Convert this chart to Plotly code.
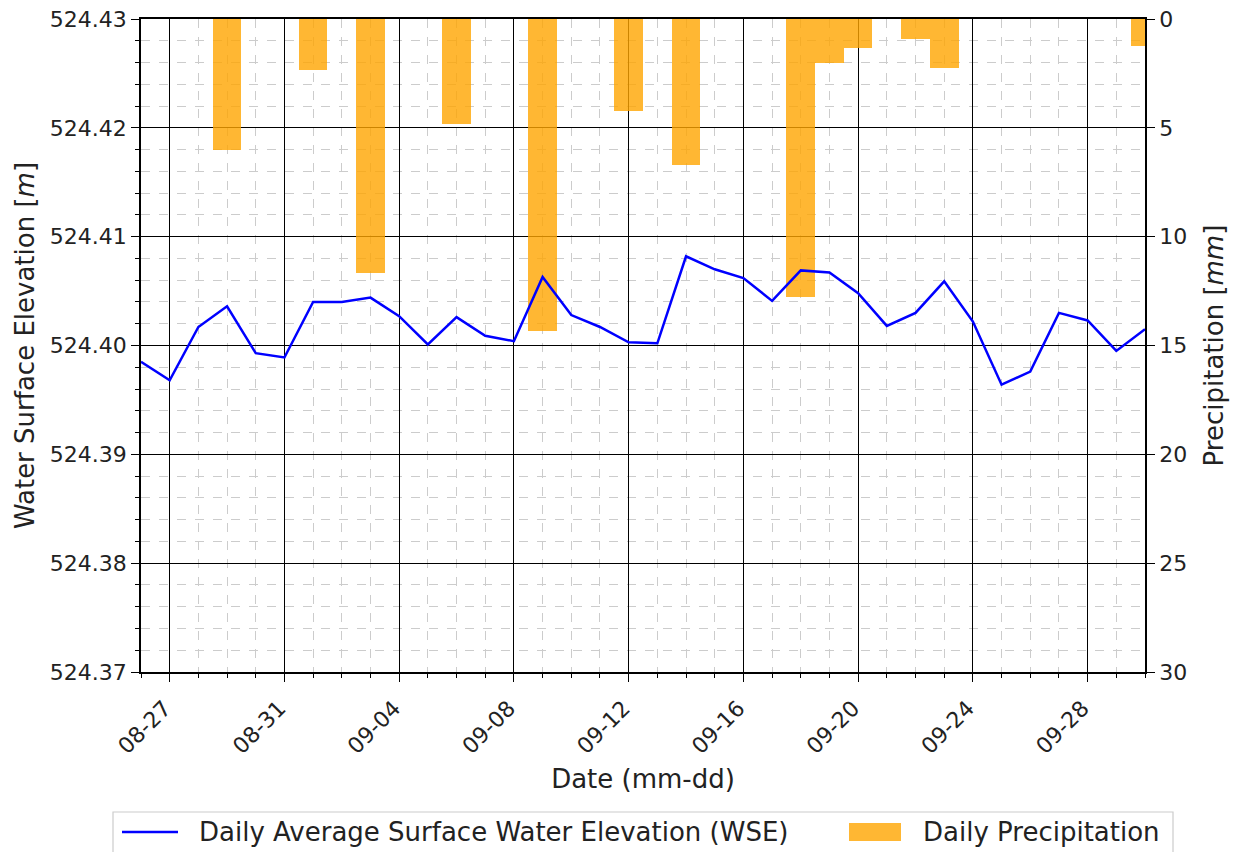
import plotly.graph_objects as go

dates = ["2024-08-26", "2024-08-27", "2024-08-28", "2024-08-29", "2024-08-30", "2024-08-31",
         "2024-09-01", "2024-09-02", "2024-09-03", "2024-09-04", "2024-09-05", "2024-09-06",
         "2024-09-07", "2024-09-08", "2024-09-09", "2024-09-10", "2024-09-11", "2024-09-12",
         "2024-09-13", "2024-09-14", "2024-09-15", "2024-09-16", "2024-09-17", "2024-09-18",
         "2024-09-19", "2024-09-20", "2024-09-21", "2024-09-22", "2024-09-23", "2024-09-24",
         "2024-09-25", "2024-09-26", "2024-09-27", "2024-09-28", "2024-09-29", "2024-09-30"]

wse = [524.3985, 524.3968, 524.4017, 524.4036, 524.3993, 524.3989,
       524.4040, 524.4040, 524.4044, 524.4027, 524.4001, 524.4026,
       524.4009, 524.4004, 524.4063, 524.4028, 524.4017, 524.4003,
       524.4002, 524.4082, 524.4070, 524.4062, 524.4041, 524.4069,
       524.4067, 524.4048, 524.4018, 524.4030, 524.4059, 524.4022,
       524.3964, 524.3976, 524.4030, 524.4023, 524.3995, 524.4015]

precip = [0, 0, 0, 6.0, 0, 0,
          2.33, 0, 11.67, 0, 0, 4.84,
          0, 0, 14.33, 0, 0, 4.21,
          0, 6.69, 0, 0, 0, 12.77,
          2.02, 1.33, 0, 0.93, 2.24, 0,
          0, 0, 0, 0, 0, 1.24]

line_name = "Daily Average Surface Water Elevation (WSE)"
bar_name = "Daily Precipitation"

DAY = 86400000
FONT = "DejaVu Sans"
W, H = 1233, 852
ML, MR, MT, MB = 141, 88, 19, 180
PW, PH = W - ML - MR, H - MT - MB

LINE_COLOR = "#0000FF"
BAR_COLOR = "#FFA500"
TICK_SIZE = 22
LABEL_SIZE = 26


def px(x):
    return (x - ML) / PW


def py(y):
    return (H - MB - y) / PH


fig = go.Figure()

# precipitation bars on the base (right, reversed) axis
fig.add_trace(go.Bar(
    x=dates, y=precip, yaxis="y", width=DAY,
    marker=dict(color=BAR_COLOR, opacity=0.8, line=dict(width=0)),
    name=bar_name, showlegend=False,
))

# water surface elevation on the overlaid (left) axis, drawn on top
fig.add_trace(go.Scatter(
    x=dates, y=wse, mode="lines", yaxis="y2",
    line=dict(color=LINE_COLOR, width=2.5),
    name=line_name, showlegend=False,
))

# legend drawn as a boxed, horizontal key below the axes
shapes = [
    dict(type="rect", xref="paper", yref="paper",
         x0=px(113), x1=px(1173), y0=py(812), y1=py(880),
         line=dict(color="#cccccc", width=1.2), fillcolor="white", layer="above"),
    dict(type="line", xref="paper", yref="paper",
         x0=px(122), x1=px(178), y0=py(832), y1=py(832),
         line=dict(color=LINE_COLOR, width=2.5), layer="above"),
    dict(type="rect", xref="paper", yref="paper",
         x0=px(849), x1=px(901), y0=py(823), y1=py(841),
         line=dict(width=0), fillcolor=BAR_COLOR, opacity=0.8, layer="above"),
]
annotations = [
    dict(text=line_name, xref="paper", yref="paper", x=px(197), y=py(832),
         xanchor="left", yanchor="middle", showarrow=False, font=dict(size=LABEL_SIZE)),
    dict(text=bar_name, xref="paper", yref="paper", x=px(921), y=py(832),
         xanchor="left", yanchor="middle", showarrow=False, font=dict(size=LABEL_SIZE)),
]

fig.update_layout(
    width=W, height=H,
    margin=dict(l=ML, r=MR, t=MT, b=MB, autoexpand=False),
    plot_bgcolor="white", paper_bgcolor="white",
    font=dict(family=FONT, size=TICK_SIZE, color="#222222"),
    bargap=0,
    showlegend=False,
    shapes=shapes,
    annotations=annotations,
    xaxis=dict(
        type="date",
        range=["2024-08-26", "2024-09-30"],
        tick0="2024-08-27", dtick=4 * DAY,
        tickformat="%m-%d", tickangle=-45,
        ticks="outside", ticklen=8, tickwidth=1.2, tickcolor="black",
        ticklabelshift=-5, ticklabelstandoff=5,
        showline=True, linecolor="black", linewidth=1.5, mirror=True,
        showgrid=True, gridcolor="black", gridwidth=1,
        minor=dict(dtick=DAY, tick0="2024-08-27", ticks="outside", ticklen=4,
                   tickcolor="black", showgrid=True, gridcolor="#cccccc",
                   griddash="dash", gridwidth=1),
        title=dict(text="Date (mm-dd)", font=dict(size=LABEL_SIZE), standoff=12),
        tickfont=dict(size=TICK_SIZE),
        zeroline=False,
    ),
    yaxis=dict(
        side="right",
        range=[30, 0], dtick=5, tick0=0,
        ticks="outside", ticklen=8, tickwidth=1.2, tickcolor="black",
        showline=True, linecolor="black", linewidth=1.5,
        showgrid=True, gridcolor="black", gridwidth=1,
        minor=dict(dtick=1, tick0=0, ticks="", showgrid=True, gridcolor="#cccccc",
                   griddash="dash", gridwidth=1),
        zeroline=False,
        title=dict(text="Precipitation [<i>mm</i>]", font=dict(size=LABEL_SIZE), standoff=19),
        tickfont=dict(size=TICK_SIZE),
    ),
    yaxis2=dict(
        overlaying="y", side="left",
        range=[524.37, 524.43], dtick=0.01, tick0=524.37, tickformat=".2f",
        ticks="outside", ticklen=8, tickwidth=1.2, tickcolor="black",
        showline=True, linecolor="black", linewidth=1.5,
        showgrid=False,
        minor=dict(dtick=0.002, tick0=524.37, ticks="outside", ticklen=4,
                   tickcolor="black", showgrid=False),
        title=dict(text="Water Surface Elevation [<i>m</i>]", font=dict(size=LABEL_SIZE), standoff=8),
        tickfont=dict(size=TICK_SIZE),
        zeroline=False,
    ),
)

fig.write_html(
    "out.html",
    config={"displayModeBar": False},
    post_script="document.body.style.margin='0px';document.body.style.overflow='hidden';",
)
